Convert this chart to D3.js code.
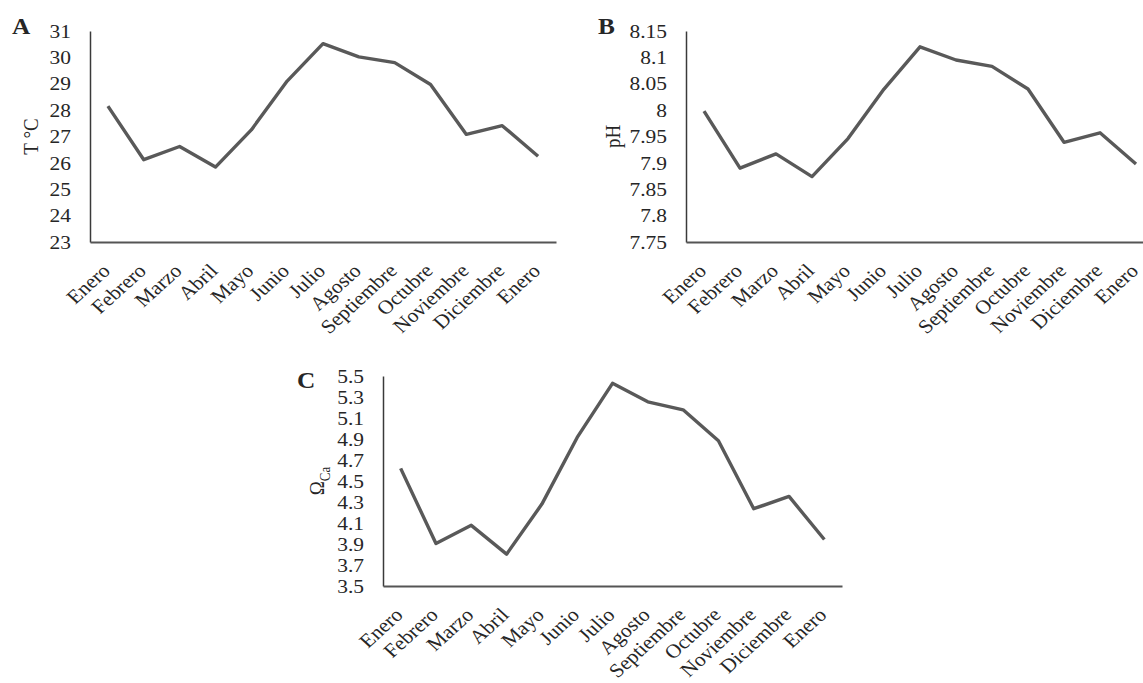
<!DOCTYPE html>
<html>
<head>
<meta charset="utf-8">
<script src="https://cdn.jsdelivr.net/npm/d3@7"></script>
<style>
  html, body { margin: 0; padding: 0; background: #fff; }
  svg { display: block; }
  text { font-family: "Liberation Serif", "Times New Roman", serif; fill: #262626; }
</style>
</head>
<body>
<svg id="chart" width="1143" height="683"></svg>
<script>
// Monthly series, January through the following January
const months = ["Enero", "Febrero", "Marzo", "Abril", "Mayo", "Junio", "Julio",
  "Agosto", "Septiembre", "Octubre", "Noviembre", "Diciembre", "Enero"];

const temperature = [28.15, 26.12, 26.62, 25.84, 27.25, 29.1, 30.52, 30.02, 29.8, 28.97, 27.08, 27.41, 26.25];
const ph = [7.998, 7.890, 7.917, 7.874, 7.946, 8.040, 8.120, 8.095, 8.083, 8.040, 7.939, 7.957, 7.898];
const omegaCa = [4.62, 3.905, 4.078, 3.803, 4.28, 4.915, 5.43, 5.254, 5.178, 4.884, 4.236, 4.353, 3.943];

const temperatureTicks = [23, 24, 25, 26, 27, 28, 29, 30, 31];
const phTicks = [7.75, 7.8, 7.85, 7.9, 7.95, 8, 8.05, 8.1, 8.15];
const omegaTicks = [3.5, 3.7, 3.9, 4.1, 4.3, 4.5, 4.7, 4.9, 5.1, 5.3, 5.5];

const svg = d3.select("#chart");
// Type is set slightly wide, as in the printed figure
const stretch = 1.1;

function drawPanel(cfg) {
  const g = svg.append("g").attr("transform", `translate(${cfg.left},${cfg.top})`);
  const w = cfg.width, h = cfg.height;

  const x = d3.scaleBand().domain(d3.range(months.length)).range([0, w]);
  const y = d3.scaleLinear().domain([cfg.ticks[0], cfg.ticks[cfg.ticks.length - 1]]).range([h, 0]);

  // y axis
  const yAxis = g.append("g")
    .call(d3.axisLeft(y).tickValues(cfg.ticks).tickSize(0).tickPadding(0).tickFormat(cfg.format));
  yAxis.select(".domain").attr("stroke", "#3a3a3a").attr("stroke-width", 1.5);
  yAxis.selectAll("text")
    .attr("x", null)
    .attr("transform", `translate(-19,0) scale(${stretch},1)`)
    .style("font-family", "Liberation Serif")
    .style("font-size", "19.5px")
    .attr("fill", "#262626");

  // x axis with month names at -45°
  const xAxis = g.append("g").attr("transform", `translate(0,${h})`)
    .call(d3.axisBottom(x).tickSize(0).tickSizeOuter(0).tickFormat(i => months[i]));
  xAxis.select(".domain").attr("stroke", "#555").attr("stroke-width", 2);
  xAxis.selectAll("text")
    .attr("y", null).attr("dy", null)
    .attr("text-anchor", "end")
    .attr("transform", `translate(3.5,30) scale(${stretch},1) rotate(-45)`)
    .style("font-family", "Liberation Serif")
    .style("font-size", "19.5px")
    .attr("fill", "#262626");

  // series line
  const line = d3.line()
    .x((d, i) => x(i) + x.bandwidth() / 2)
    .y(d => y(d));
  g.append("path")
    .datum(cfg.values)
    .attr("fill", "none")
    .attr("stroke", "#595959")
    .attr("stroke-width", 3.4)
    .attr("stroke-linejoin", "round")
    .attr("d", line);

  // axis title
  const title = g.append("text")
    .attr("transform", `translate(${cfg.titleX},${h / 2 + cfg.titleDy}) scale(${stretch},1) rotate(-90)`)
    .attr("text-anchor", "middle")
    .style("font-size", "19px");
  cfg.title(title);

  // panel letter
  g.append("text")
    .attr("transform", `translate(${cfg.letterX},${cfg.letterY}) scale(${stretch},1)`)
    .style("font-size", "23px")
    .style("font-weight", "bold")
    .text(cfg.letter);
}

drawPanel({
  letter: "A", letterX: -78, letterY: 3,
  left: 90, top: 31, width: 466, height: 211,
  values: temperature, ticks: temperatureTicks, format: d => d,
  titleX: -52, titleDy: 0,
  title: t => t.text("T °C")
});

drawPanel({
  letter: "B", letterX: -88, letterY: 3,
  left: 686, top: 31, width: 468, height: 211,
  values: ph, ticks: phTicks, format: d => String(d),
  titleX: -66, titleDy: 0,
  title: t => t.text("pH")
});

drawPanel({
  letter: "C", letterX: -86, letterY: 12,
  left: 383, top: 376, width: 459, height: 210,
  values: omegaCa, ticks: omegaTicks, format: d3.format(".1f"),
  titleX: -59, titleDy: 0,
  title: t => {
    t.append("tspan").text("Ω");
    t.append("tspan").attr("dy", 5).style("font-size", "13px").text("Ca");
  }
});
</script>
</body>
</html>
